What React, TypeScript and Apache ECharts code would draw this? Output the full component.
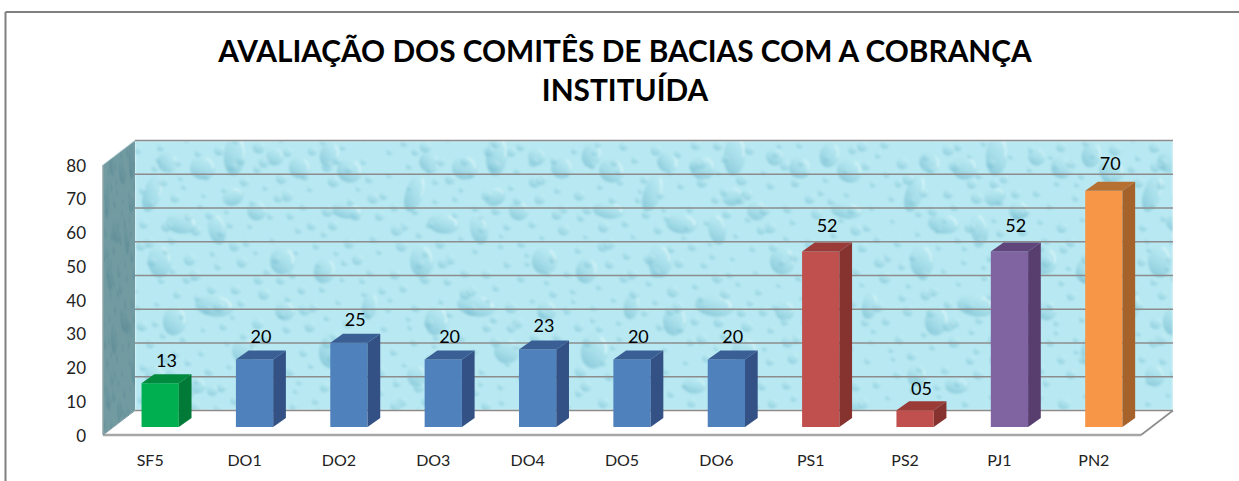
import React, { useEffect, useRef } from "react";
import * as echarts from "echarts";

const categories = ["SF5", "DO1", "DO2", "DO3", "DO4", "DO5", "DO6", "PS1", "PS2", "PJ1", "PN2"];
const values = [13, 20, 25, 20, 23, 20, 20, 52, 5, 52, 70];
const valueLabels = ["13", "20", "25", "20", "23", "20", "20", "52", "05", "52", "70"];
const frontColors = ["#00B050", "#4F81BD", "#4F81BD", "#4F81BD", "#4F81BD", "#4F81BD", "#4F81BD", "#C0504D", "#C0504D", "#8064A2", "#F79646"];
const topColors = ["#008A3E", "#3A5F95", "#3A5F95", "#3A5F95", "#3A5F95", "#3A5F95", "#3A5F95", "#9A3B38", "#9A3B38", "#5F4579", "#B57032"];
const sideColors = ["#007A36", "#335184", "#335184", "#335184", "#335184", "#335184", "#335184", "#86322F", "#86322F", "#573E6F", "#A5622B"];
const yTicks = [0, 10, 20, 30, 40, 50, 60, 70, 80];
const titleText = "AVALIAÇÃO DOS COMITÊS DE BACIAS COM A COBRANÇA\nINSTITUÍDA";

// Big droplets of one repeat of the wall texture: x, y, rx, ry, rotation
const bigDrops = [
  [68, 27, 13, 12, 0], [100, 14, 11, 21, 0.1], [33, 22, 11, 10, 0.5], [18, 52, 9, 20, 0.35], [98, 56, 11, 9, -0.4],
  [140, 16, 9, 9, 0], [165, 27, 11, 11, 0.2], [195, 14, 10, 13, 0.3], [47, 83, 16, 10, 0.1], [82, 88, 9, 16, -0.2],
  [148, 120, 13, 14, 0.2], [25, 120, 12, 17, 0], [212, 70, 16, 8, 0.1], [215, 30, 13, 12, 0.2], [122, 70, 10, 10, 0],
  [80, 165, 20, 11, 0.1], [40, 180, 12, 15, 0.2], [110, 210, 13, 13, 0], [190, 130, 11, 13, 0.3], [20, 235, 10, 11, 0],
  [150, 170, 10, 10, 0], [198, 210, 14, 18, 0.2], [60, 245, 12, 8, 0], [235, 165, 8, 14, 0.2],
];

function drop(ctx: CanvasRenderingContext2D, x: number, y: number, rx: number, ry: number, rot: number, a: number) {
  ctx.save();
  ctx.translate(x, y);
  ctx.rotate(rot);
  ctx.scale(rx, ry);
  const g = ctx.createLinearGradient(-0.45, 1, 0.45, -1);
  g.addColorStop(0, `rgba(100,175,198,${0.7 * a})`);
  g.addColorStop(0.55, `rgba(150,212,226,${0.45 * a})`);
  g.addColorStop(1, `rgba(205,244,249,${0.25 * a})`);
  ctx.fillStyle = g;
  ctx.beginPath();
  ctx.arc(0, 0, 1, 0, Math.PI * 2);
  ctx.fill();
  ctx.strokeStyle = `rgba(236,252,254,${0.8 * a})`;
  ctx.lineWidth = 0.14;
  ctx.beginPath();
  ctx.arc(0, 0, 0.78, -1.3, 0.1);
  ctx.stroke();
  ctx.restore();
}

function drawTexture(ctx: CanvasRenderingContext2D, w: number, h: number) {
  ctx.fillStyle = "#B8E9F2";
  ctx.fillRect(0, 0, w, h);
  for (let t = 0; t * 250 < w; t++) {
    for (const d of bigDrops) drop(ctx, d[0] + t * 250 + (t % 2) * 12, d[1], d[2], d[3], d[4], 0.8);
  }
  for (let j = 0; j * 16 < h + 16; j++) {
    for (let i = 0; i * 23 < w + 23; i++) {
      const s = Math.sin(i * 12.9 + j * 78.2);
      const c = Math.sin(i * 39.3 + j * 17.7);
      const r = 2.8 + 3.6 * Math.abs(s * c);
      drop(ctx, i * 23 + 9 * s, j * 16 + 7 * c, r, r * 0.95, 0, 0.75);
    }
  }
}

function makeWallImages() {
  const raw = document.createElement("canvas");
  raw.width = 1038;
  raw.height = 270;
  drawTexture(raw.getContext("2d")!, 1038, 270);
  const back = document.createElement("canvas");
  back.width = 1038;
  back.height = 270;
  const b = back.getContext("2d")!;
  b.filter = "blur(0.8px)";
  b.drawImage(raw, 0, 0);
  b.filter = "none";
  const left = document.createElement("canvas");
  left.width = 32;
  left.height = 295;
  const c = left.getContext("2d")!;
  c.beginPath();
  c.moveTo(0, 24.5);
  c.lineTo(32, 0);
  c.lineTo(32, 270);
  c.lineTo(0, 295);
  c.closePath();
  c.clip();
  c.drawImage(back, 0, 0, 110, 270, 0, 0, 32, 295);
  c.fillStyle = "rgba(70,105,112,0.62)";
  c.fillRect(0, 0, 32, 295);
  return { back: back.toDataURL("image/png"), left: left.toDataURL("image/png") };
}

const WALL_DX = 32;
const WALL_DY = 24.5;
const BAR_DX = 10;
const BAR_DY = 8;
const BAR_SIDE_DX = 12.7;
const BAR_SIDE_DY = 9;
const BAR_RATIO = 0.395;
const FONT = "Lato, Carlito, 'Open Sans', sans-serif";

export default function App() {
  const ref = useRef<HTMLDivElement>(null);
  useEffect(() => {
    document.body.style.margin = "0";
    document.body.style.background = "#fff";
    const chart = echarts.init(ref.current!, undefined, { renderer: "svg" });
    const images = makeWallImages();
    const lineStyle = { stroke: "#8C8C8C", lineWidth: 1.6, fill: "none" };
    chart.setOption({
      animation: false,
      backgroundColor: "#fff",
      title: {
        text: titleText,
        left: 620,
        top: 26,
        textAlign: "center",
        textStyle: { fontFamily: FONT, fontWeight: "bold", fontSize: 29.8, lineHeight: 39, color: "#000" },
      },
      graphic: [
        { type: "line", shape: { x1: 5.5, y1: 12, x2: 1239, y2: 12 }, style: { stroke: "#808080", lineWidth: 2 } },
        { type: "line", shape: { x1: 5.5, y1: 12, x2: 5.5, y2: 481 }, style: { stroke: "#808080", lineWidth: 2 } },
      ],
      grid: { left: 103, top: 165, width: 1038, height: 270, containLabel: false },
      xAxis: {
        type: "category",
        data: categories,
        axisLine: { show: false },
        axisTick: { show: false },
        axisLabel: { fontFamily: FONT, fontSize: 16, color: "#222", margin: 16 },
      },
      yAxis: {
        type: "value",
        min: 0,
        max: 80,
        interval: 10,
        splitLine: { show: false },
        axisLine: { show: false },
        axisTick: { show: false },
        axisLabel: { fontFamily: FONT, fontSize: 17, color: "#222", margin: 17 },
      },
      series: [
        {
          type: "custom",
          silent: true,
          clip: false,
          z: 1,
          data: [[0, 0]],
          renderItem: (params: any, api: any) => {
            const cs = params.coordSys;
            const x0 = cs.x;
            const x1 = cs.x + cs.width;
            const yBase = api.coord([0, 0])[1];
            const yTop = api.coord([0, 80])[1];
            const children: any[] = [
              { type: "image", style: { image: images.left, x: x0, y: yTop - WALL_DY, width: WALL_DX, height: 295 } },
              { type: "image", style: { image: images.back, x: x0 + WALL_DX, y: yTop - WALL_DY, width: cs.width, height: 270 } },
              {
                type: "polygon",
                shape: { points: [[x0 + WALL_DX, yBase - WALL_DY], [x1 + WALL_DX, yBase - WALL_DY], [x1, yBase], [x0, yBase]] },
                style: { fill: "#fff", stroke: "none" },
              },
              { type: "line", shape: { x1: x0, y1: yBase, x2: x1, y2: yBase }, style: { stroke: "#A6A6A6", lineWidth: 2.6 } },
              { type: "line", shape: { x1: x1, y1: yBase, x2: x1 + WALL_DX, y2: yBase - WALL_DY }, style: lineStyle },
              { type: "line", shape: { x1: x0, y1: yBase, x2: x0, y2: yTop }, style: { stroke: "#8FA4A8", lineWidth: 1.5 } },
              { type: "line", shape: { x1: x0, y1: yBase, x2: x0 + WALL_DX, y2: yBase - WALL_DY }, style: { stroke: "#7F9CA2", lineWidth: 1 } },
            ];
            yTicks.forEach((t) => {
              const y = api.coord([0, t])[1] - WALL_DY;
              children.push({ type: "line", shape: { x1: x0 + WALL_DX, y1: y, x2: x1 + WALL_DX, y2: y }, style: lineStyle });
            });
            return { type: "group", children };
          },
        },
        {
          type: "custom",
          silent: true,
          clip: false,
          z: 3,
          encode: { x: 0, y: 1 },
          data: values.map((v, i) => [i, v]),
          renderItem: (params: any, api: any) => {
            const i = params.dataIndex;
            const w = api.size([1, 0])[0] * BAR_RATIO;
            const top = api.coord([i, api.value(1)]);
            const base = api.coord([i, 0]);
            const xa = top[0] + BAR_DX - w / 2;
            const xb = xa + w;
            const yt = top[1] - BAR_DY;
            const yb = base[1] - BAR_DY;
            const sx = BAR_SIDE_DX;
            const sy = BAR_SIDE_DY;
            return {
              type: "group",
              children: [
                { type: "rect", shape: { x: xa, y: yt, width: w, height: yb - yt }, style: { fill: frontColors[i] } },
                { type: "polygon", shape: { points: [[xb, yt], [xb + sx, yt - sy], [xb + sx, yb - sy], [xb, yb]] }, style: { fill: sideColors[i] } },
                { type: "polygon", shape: { points: [[xa, yt], [xa + sx, yt - sy], [xb + sx, yt - sy], [xb, yt]] }, style: { fill: topColors[i] } },
                {
                  type: "text",
                  style: {
                    text: valueLabels[i],
                    x: xa + (w + sx) / 2,
                    y: yt - sy - 13 - api.value(1) * 0.085,
                    align: "center",
                    verticalAlign: "middle",
                    fill: "#000",
                    font: `18px ${FONT}`,
                  },
                },
              ],
            };
          },
        },
      ],
    });
    return () => chart.dispose();
  }, []);
  return <div ref={ref} style={{ width: 1239, height: 481 }} />;
}
